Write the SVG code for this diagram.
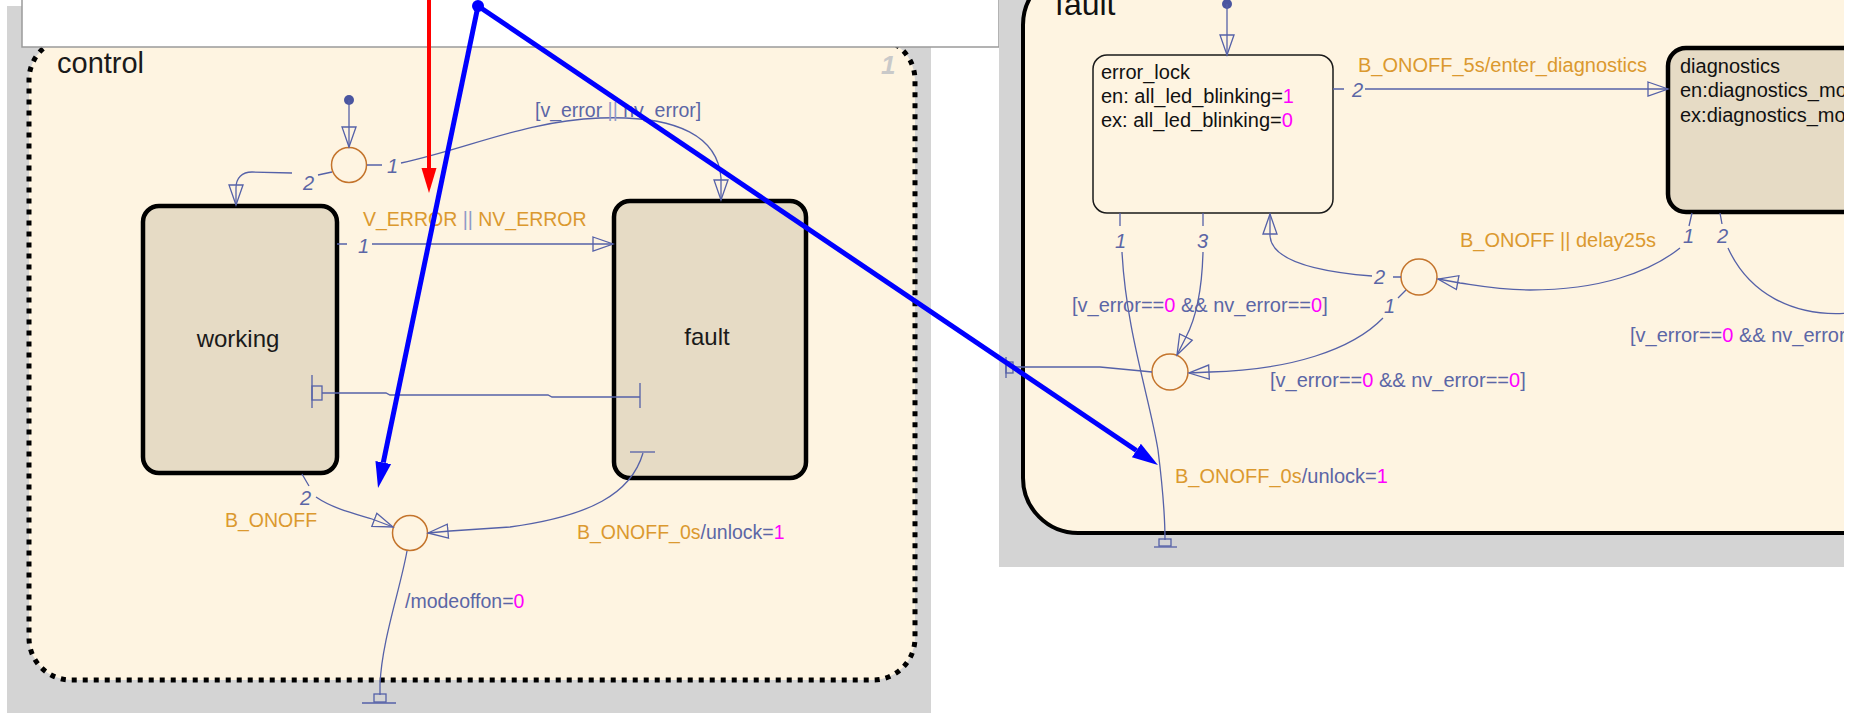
<svg xmlns="http://www.w3.org/2000/svg" width="1850" height="715" viewBox="0 0 1850 715">
<defs>
<style>
text{font-family:"Liberation Sans",Arial,sans-serif}
.lbl{font-size:19.5px;fill:#5b66a6}
.lblR{font-size:20px;fill:#5b66a6}
.ev{fill:#db992f}
.num{fill:#f0f}
.bar{fill:#8e9ac8}
.idx{font-style:italic;font-size:20px;fill:#5b66a6}
.tr{fill:none;stroke:#5561a8;stroke-width:1.3}
.junc{fill:none;stroke:#c4742c;stroke-width:1.5}
.state{fill:#e6dbc5;stroke:#000;stroke-width:4.5}
.sname{font-size:24px;fill:#1a1a1a}
.body{font-size:20px;fill:#111}
.ptr{fill:none;stroke:#0000ff;stroke-width:5}
.dot{fill:#4a55a0}
</style>
<marker id="open" markerUnits="userSpaceOnUse" markerWidth="24" markerHeight="18" refX="21" refY="9" orient="auto">
<path d="M1,2 L21,9 L1,16 Z" fill="none" stroke="#5561a8" stroke-width="1.3"/>
</marker>
<marker id="blueHead" markerUnits="userSpaceOnUse" markerWidth="28" markerHeight="20" refX="0" refY="10" orient="auto">
<path d="M0,2 L26,10 L0,18 Z" fill="#0000ff"/>
</marker>
<marker id="redHead" markerUnits="userSpaceOnUse" markerWidth="28" markerHeight="20" refX="0" refY="10" orient="auto">
<path d="M0,2.5 L25,10 L0,17.5 Z" fill="#ff0000"/>
</marker>
<clipPath id="rightView"><rect x="999" y="0" width="845" height="567"/></clipPath>
</defs>

<rect width="1850" height="715" fill="#fff"/>

<!-- left view: control chart -->
<rect x="7" y="6" width="924" height="707" fill="#d4d4d4"/>
<g id="control">
<rect x="29" y="38" width="886" height="642" rx="42" fill="#fef4e1" stroke="#000" stroke-width="5" stroke-dasharray="5 6"/>
<text x="57" y="73" font-size="29" fill="#1a1a1a">control</text>
<text x="881" y="74" font-size="26" font-style="italic" font-weight="bold" fill="#c9c9c9">1</text>
</g>

<g id="working">
<rect class="state" x="143" y="206" width="194" height="267" rx="16"/>
<text class="sname" x="238" y="347" text-anchor="middle">working</text>
</g>

<g id="fault_state">
<rect class="state" x="614" y="201" width="192" height="277" rx="16"/>
<text class="sname" x="707" y="345" text-anchor="middle">fault</text>
</g>

<g id="junction_top"><circle class="junc" cx="349" cy="165" r="17.5"/></g>
<g id="junction_bottom"><circle class="junc" cx="410" cy="533" r="17.5"/></g>

<g id="control_transitions">
<circle class="dot" cx="349" cy="100" r="5"/>
<path class="tr" d="M349,100 L349,147" marker-end="url(#open)"/>

<path class="tr" d="M332,172 L318,175 M292,173 L252,172 C242,172 236,178 236,188 L236,205" marker-end="url(#open)"/>
<text class="idx" x="303" y="190">2</text>

<path class="tr" d="M367,165 L382,165 M401,163 C470,148 525,121 600,118 C680,115 718,138 721,178 L721,200" marker-end="url(#open)"/>
<text class="idx" x="387" y="173">1</text>
<text class="lbl" x="535" y="117">[v_error <tspan class="bar">||</tspan> nv_error]</text>

<path class="tr" d="M337,244 L347,244 M372,244 L613,244" marker-end="url(#open)"/>
<text class="idx" x="358" y="253">1</text>
<text class="lbl ev" x="363" y="226">V_ERROR <tspan class="bar">||</tspan> NV_ERROR</text>

<path class="tr" d="M640,397 L552,397 L548,395 L390,395 L386,393 L322,393"/>
<path class="tr" d="M640,383 L640,408 M312,375 L312,408"/>
<rect class="tr" x="312" y="386" width="10" height="14"/>

<path class="tr" d="M302,474 L309,486 M316,497 C332,508 352,513 372,519 L393,527" marker-end="url(#open)"/>
<text class="idx" x="300" y="505">2</text>
<text class="lbl ev" x="225" y="527">B_ONOFF</text>

<path class="tr" d="M630,452 L655,452"/>
<path class="tr" d="M643,453 C631,494 590,516 510,527 L450,531 L428,533" marker-end="url(#open)"/>
<text class="lbl" x="577" y="539"><tspan class="ev">B_ONOFF_0s</tspan>/unlock=<tspan class="num">1</tspan></text>

<path class="tr" d="M407,551 C400,590 382,640 380,684 L380,695"/>
<rect class="tr" x="374" y="694" width="12" height="8"/>
<path class="tr" d="M362,703 L396,703"/>
<text class="lbl" x="405" y="608">/modeoffon=<tspan class="num">0</tspan></text>
</g>

<!-- overlaid blank window -->
<rect x="22" y="-2" width="977" height="49" fill="#fff" stroke="#9a9a9a" stroke-width="1.5"/>

<!-- right view: fault chart -->
<rect x="999" y="0" width="845" height="567" fill="#d4d4d4"/>
<g clip-path="url(#rightView)">
<g id="fault_chart">
<rect x="1023" y="-30" width="900" height="563" rx="55" fill="#fef4e1" stroke="#000" stroke-width="4"/>
<text x="1055" y="15" font-size="32" fill="#111">fault</text>
</g>

<g id="error_lock">
<rect x="1093" y="55" width="240" height="158" rx="14" fill="#fef4e1" stroke="#1a1a1a" stroke-width="1.5"/>
<text class="body" x="1101" y="79">error_lock</text>
<text class="body" x="1101" y="103">en: all_led_blinking=<tspan class="num">1</tspan></text>
<text class="body" x="1101" y="127">ex: all_led_blinking=<tspan class="num">0</tspan></text>
</g>

<g id="diagnostics">
<rect class="state" x="1668" y="48" width="300" height="164" rx="18"/>
<text class="body" x="1680" y="73">diagnostics</text>
<text class="body" x="1680" y="97">en:diagnostics_mode</text>
<text class="body" x="1680" y="122">ex:diagnostics_mode</text>
</g>

<g id="junction_upper"><circle class="junc" cx="1419" cy="277" r="18"/></g>
<g id="junction_lower"><circle class="junc" cx="1170" cy="372" r="18"/></g>

<g id="fault_transitions">
<circle class="dot" cx="1227" cy="4" r="5"/>
<path class="tr" d="M1227,4 L1227,55" marker-end="url(#open)"/>

<path class="tr" d="M1333,89 L1344,89 M1365,89 L1668,89" marker-end="url(#open)"/>
<text class="idx" x="1352" y="97">2</text>
<text class="lblR ev" x="1358" y="72">B_ONOFF_5s/enter_diagnostics</text>

<path class="tr" d="M1692,213 L1689,226 M1680,248 C1650,272 1600,290 1530,290 C1500,290 1480,286 1460,283 L1438,279" marker-end="url(#open)"/>
<text class="idx" x="1683" y="243">1</text>
<text class="lblR ev" x="1460" y="247">B_ONOFF || delay25s</text>

<path class="tr" d="M1720,213 L1722,224 M1728,248 C1748,292 1792,318 1850,313"/>
<text class="idx" x="1717" y="243">2</text>
<text class="lblR" x="1630" y="342">[v_error==<tspan class="num">0</tspan> &amp;&amp; nv_error==<tspan class="num">0</tspan>]</text>

<path class="tr" d="M1401,277 L1393,277 M1372,276 C1320,272 1272,262 1270,236 L1270,214" marker-end="url(#open)"/>
<text class="idx" x="1374" y="284">2</text>

<path class="tr" d="M1406,290 L1398,298 M1383,318 C1352,350 1290,370 1210,372 L1189,373" marker-end="url(#open)"/>
<text class="idx" x="1384" y="313">1</text>
<text class="lblR" x="1270" y="387">[v_error==<tspan class="num">0</tspan> &amp;&amp; nv_error==<tspan class="num">0</tspan>]</text>

<path class="tr" d="M1120,213 L1120,226 M1122,252 C1126,330 1150,400 1158,450 C1163,490 1165,520 1165,540"/>
<text class="idx" x="1115" y="248">1</text>
<rect class="tr" x="1159" y="539" width="12" height="7"/>
<path class="tr" d="M1154,547 L1177,547"/>
<text class="lblR" x="1175" y="483"><tspan class="ev">B_ONOFF_0s</tspan>/unlock=<tspan class="num">1</tspan></text>

<path class="tr" d="M1203,213 L1203,226 M1203,252 C1202,290 1196,318 1186,337 L1177,355" marker-end="url(#open)"/>
<text class="idx" x="1197" y="248">3</text>
<text class="lblR" x="1072" y="312">[v_error==<tspan class="num">0</tspan> &amp;&amp; nv_error==<tspan class="num">0</tspan>]</text>

<path class="tr" d="M1152,372 L1142,371 L1100,367 L1013,367"/>
<path class="tr" d="M1006,357 L1006,378"/>
<rect class="tr" x="1006" y="362" width="7" height="11"/>
</g>
</g>

<!-- pointer arrows -->
<g id="pointers">
<path d="M429,0 L429,168" fill="none" stroke="#ff0000" stroke-width="4" marker-end="url(#redHead)"/>
<path class="ptr" d="M478,6 L383.3,462.5" marker-end="url(#blueHead)"/>
<path class="ptr" d="M478,6 L1136.4,450.5" marker-end="url(#blueHead)"/>
<circle cx="478" cy="6" r="6" fill="#0000ff"/>
</g>
</svg>
